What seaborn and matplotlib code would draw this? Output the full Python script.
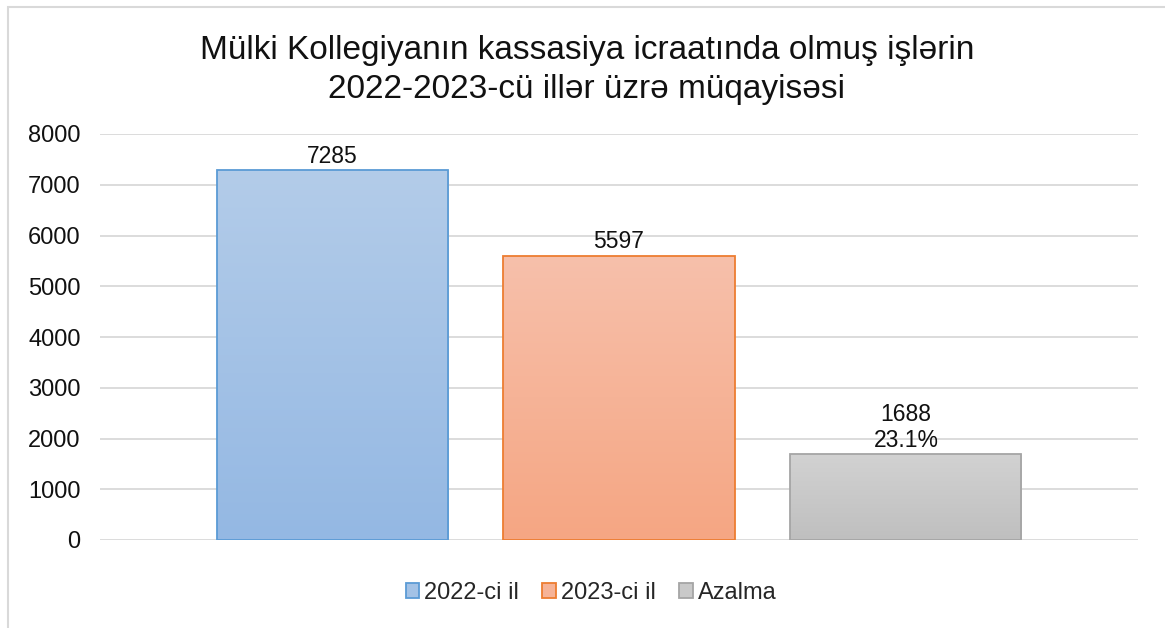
import numpy as np
import pandas as pd
import seaborn as sns
import matplotlib.pyplot as plt
from matplotlib.colors import to_rgb
from matplotlib.patches import Rectangle, Patch

# ~~~~~~~~ Data ~~~~~~~~
series = ["2022-ci il", "2023-ci il", "Azalma"]
values = [7285, 5597, 1688]
labels = ["7285", "5597", "1688\n23.1%"]
yticks = [0, 1000, 2000, 3000, 4000, 5000, 6000, 7000, 8000]
title = "Mülki Kollegiyanın kassasiya icraatında olmuş işlərin\n2022-2023-cü illər üzrə müqayisəsi"

top_cols = ["#b3cce9", "#f7c0ab", "#d2d2d2"]
bot_cols = ["#94b8e3", "#f5a683", "#bfbfbf"]
edge_cols = ["#5b9bd5", "#ed7d31", "#a5a5a5"]

df = pd.DataFrame({"seriya": series, "say": values})

# ~~~~~~~~ Plot ~~~~~~~~
sns.set_theme(style="white")
plt.rcParams['font.family'] = ['Liberation Sans', 'DejaVu Sans']

fig = plt.figure(figsize=(11.65, 6.28), dpi=100)
ax = fig.add_axes([100 / 1165, 1 - 540 / 628, 1038 / 1165, 406 / 628])

mid_cols = [tuple((np.array(to_rgb(t)) + np.array(to_rgb(b))) / 2) for t, b in zip(top_cols, bot_cols)]
sns.barplot(df, x="seriya", y="say", hue="seriya", palette=mid_cols, width=0.805,
            legend=False, ax=ax, zorder=3)

# gradient fill clipped to each bar
for patch, tc, bc, ec in zip(ax.patches, top_cols, bot_cols, edge_cols):
    x0, y0 = patch.get_x(), patch.get_y()
    w, h = patch.get_width(), patch.get_height()
    grad = np.linspace(0, 1, 100)[:, None, None]
    img = (1 - grad) * np.array(to_rgb(tc)) + grad * np.array(to_rgb(bc))
    im = ax.imshow(img, extent=[x0, x0 + w, y0, y0 + h], origin="upper",
                   aspect="auto", zorder=3, interpolation="bilinear")
    im.set_clip_path(patch)
    patch.set_facecolor("none")
    patch.set_edgecolor(ec)
    patch.set_linewidth(1.3)
    patch.set_zorder(4)

for i, (v, lab) in enumerate(zip(values, labels)):
    ax.annotate(lab, xy=(i, v), xytext=(0, 2), textcoords="offset points",
                ha="center", va="bottom", fontsize=16.5, color="#111111",
                linespacing=1.15)

ax.set_xlim(-1.8085 + 1, 1 + 1.8085)
ax.set_ylim(0, 8000)
ax.set_yticks(yticks)
ax.set_yticklabels([str(t) for t in yticks], fontsize=17, color="#111111")
ax.set_xticks([])
ax.set(xlabel="", ylabel="")
ax.tick_params(axis="y", length=0, pad=14)
ax.yaxis.grid(True, color="#d9d9d9", linewidth=1.3, zorder=0)
ax.set_axisbelow(True)
sns.despine(ax=ax, left=True, bottom=True)

fig.text(587 / 1165, 1 - 70 / 628, title, ha="center", va="center",
         fontsize=24, color="#111111", linespacing=1.32)

handles = [Patch(facecolor=m, edgecolor=e, linewidth=1.3) for m, e in zip(mid_cols, edge_cols)]
fig.legend(handles, series, loc="center", bbox_to_anchor=(591 / 1165, 1 - 593 / 628),
           ncol=3, frameon=False, fontsize=17, handlelength=0.58, handleheight=0.58,
           handletextpad=0.2, columnspacing=1.0)

# chart border
fig.patches.append(Rectangle((8 / 1165, -0.1), 1.2, 1.1 - 7 / 628, transform=fig.transFigure,
                             fill=False, edgecolor="#d9d9d9", linewidth=1.5, zorder=10))

fig.savefig("out.png", dpi=100)
